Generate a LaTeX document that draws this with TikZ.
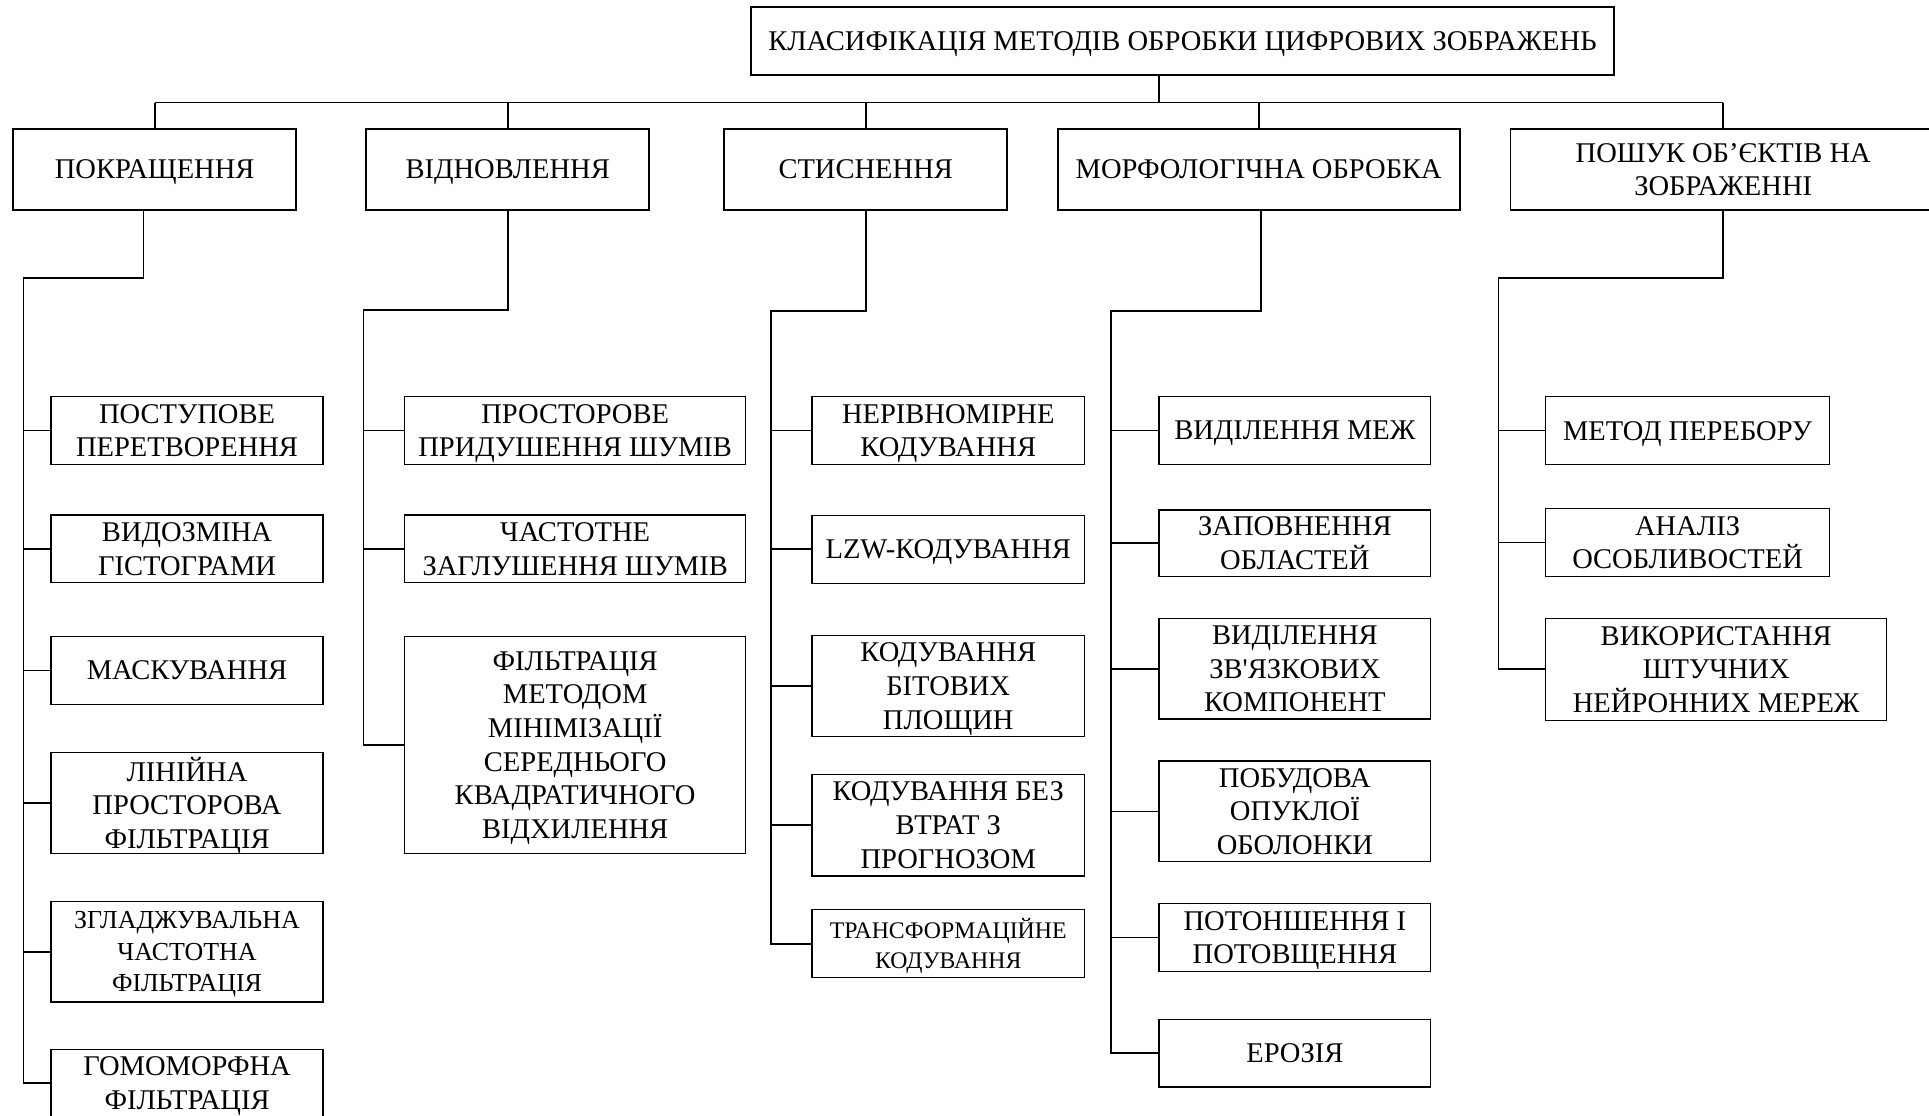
\documentclass[tikz,border=0pt]{standalone}
\usepackage{fontspec}
\setmainfont{Liberation Serif}
\usetikzlibrary{calc}
\newcommand{\boxfont}{\fontsize{13.2}{15.6}\selectfont}
\newcommand{\midboxfont}{\fontsize{12}{14.5}\selectfont}
\newcommand{\trboxfont}{\fontsize{11}{13.7}\selectfont}
\begin{document}
\begin{tikzpicture}[x=0.2mm, y=-0.2mm]
% Define box and connector styles
\tikzstyle{group} = [rectangle, draw=black, line width=0.8pt, align=center, inner sep=0pt, text depth=0pt, anchor=north west, font=\boxfont, minimum height=13.2mm]
\tikzstyle{method} = [rectangle, draw=black, line width=0.6pt, align=center, inner sep=0pt, text depth=0pt, anchor=north west, font=\boxfont, minimum height=11mm]
\tikzstyle{narrow} = [method, minimum width=44.2mm]
\tikzstyle{wide} = [method, minimum width=55.4mm]
\tikzstyle{link} = [draw=black, line width=0.8pt]

\useasboundingbox (0,0) rectangle (1568,907);
\clip (0,0) rectangle (1568,907);

% Root
\node[group, minimum width=140.2mm, minimum height=11mm] (title) at (610,5) {КЛАСИФІКАЦІЯ МЕТОДІВ ОБРОБКИ ЦИФРОВИХ ЗОБРАЖЕНЬ};

% First level (groups of methods)
\node[group, minimum width=46mm] (enh) at (10,104) {ПОКРАЩЕННЯ};
\node[group, minimum width=46mm] (rest) at (297,104) {ВІДНОВЛЕННЯ};
\node[group, minimum width=46mm] (comp) at (588,104) {СТИСНЕННЯ};
\node[group, minimum width=65.4mm] (morph) at (859,104) {МОРФОЛОГІЧНА ОБРОБКА};
\node[group, minimum width=69.2mm] (search) at (1227,104) {ПОШУК ОБ’ЄКТІВ НА\\ЗОБРАЖЕННІ};

% Enhancement methods
\node[narrow] (gradual) at (41,322) {ПОСТУПОВЕ\\ПЕРЕТВОРЕННЯ};
\node[narrow] (histeq) at (41,418) {ВИДОЗМІНА\\ГІСТОГРАМИ};
\node[narrow] (mask) at (41,517) {МАСКУВАННЯ};
\node[narrow, minimum height=16.4mm] (linfilt) at (41,611) {ЛІНІЙНА\\ПРОСТОРОВА\\ФІЛЬТРАЦІЯ};
\node[narrow, minimum height=16.4mm, font=\midboxfont] (smooth) at (41,732) {ЗГЛАДЖУВАЛЬНА\\ЧАСТОТНА\\ФІЛЬТРАЦІЯ};
\node[narrow] (homomorph) at (41,852.5) {ГОМОМОРФНА\\ФІЛЬТРАЦІЯ};

% Restoration methods
\node[wide] (spatial) at (328.5,322) {ПРОСТОРОВЕ\\ПРИДУШЕННЯ ШУМІВ};
\node[wide] (freqnoise) at (328.5,418) {ЧАСТОТНЕ\\ЗАГЛУШЕННЯ ШУМІВ};
\node[wide, minimum height=35.2mm] (mse) at (328.5,517) {ФІЛЬТРАЦІЯ\\МЕТОДОМ\\МІНІМІЗАЦІЇ\\СЕРЕДНЬОГО\\КВАДРАТИЧНОГО\\ВІДХИЛЕННЯ};

% Compression methods
\node[narrow, minimum width=44.3mm] (nonuni) at (659.5,322) {НЕРІВНОМІРНЕ\\КОДУВАННЯ};
\node[narrow, minimum width=44.3mm] (lzw) at (659.5,418.5) {LZW-КОДУВАННЯ};
\node[narrow, minimum width=44.3mm, minimum height=16.4mm] (bitplane) at (659.5,516) {КОДУВАННЯ\\БІТОВИХ\\ПЛОЩИН};
\node[narrow, minimum width=44.3mm, minimum height=16.5mm] (lossless) at (659.5,629) {КОДУВАННЯ БЕЗ\\ВТРАТ З\\ПРОГНОЗОМ};
\node[narrow, minimum width=44.3mm, font=\trboxfont] (transform) at (659.5,739) {ТРАНСФОРМАЦІЙНЕ\\КОДУВАННЯ};

% Morphological processing
\node[narrow] (edges) at (941.5,322) {ВИДІЛЕННЯ МЕЖ};
\node[narrow, minimum height=10.8mm] (fill) at (941.5,414) {ЗАПОВНЕННЯ\\ОБЛАСТЕЙ};
\node[narrow, minimum height=16.4mm] (conncomp) at (941.5,502) {ВИДІЛЕННЯ\\ЗВ\textquotesingle ЯЗКОВИХ\\КОМПОНЕНТ};
\node[narrow, minimum height=16.4mm] (hull) at (941.5,618) {ПОБУДОВА\\ОПУКЛОЇ\\ОБОЛОНКИ};
\node[narrow] (thin) at (941.5,734) {ПОТОНШЕННЯ І\\ПОТОВЩЕННЯ};
\node[narrow] (erosion) at (941.5,828) {ЕРОЗІЯ};

% Object search
\node[method, minimum width=46.1mm] (brute) at (1256,322) {МЕТОД ПЕРЕБОРУ};
\node[method, minimum width=46.1mm] (features) at (1256,413) {АНАЛІЗ\\ОСОБЛИВОСТЕЙ};
\node[wide, minimum height=16.6mm] (neural) at (1256,502) {ВИКОРИСТАННЯ\\ШТУЧНИХ\\НЕЙРОННИХ МЕРЕЖ};

% Root to groups
\draw[link] ($(title.south)+(-19,0)$) -- ++(0,22) coordinate (hub);
\draw[link] (hub -| enh.north) -- (hub -| search.north);
\draw[link] (hub -| enh.north) -- (enh.north);
\draw[link] (hub -| rest.north) -- (rest.north);
\draw[link] (hub -| comp.north) -- (comp.north);
\draw[link] (hub -| morph.north) -- (morph.north);
\draw[link] (hub -| search.north) -- (search.north);

% Rails of each group
\coordinate (enhrail) at (19,226);
\coordinate (restrail) at (295.5,252);
\coordinate (comprail) at (627,253);
\coordinate (morphrail) at (903,253);
\coordinate (searchrail) at (1218,226);

\draw[link] ($(enh.south)+(-9,0)$) |- (enhrail) -- (enhrail |- homomorph.west) -- (homomorph.west);
\draw[link] (enhrail |- gradual.west) -- (gradual.west);
\draw[link] (enhrail |- histeq.west) -- (histeq.west);
\draw[link] (enhrail |- mask.west) -- (mask.west);
\draw[link] (enhrail |- linfilt.west) -- (linfilt.west);
\draw[link] (enhrail |- smooth.west) -- (smooth.west);

\draw[link] (rest.south) |- (restrail) -- (restrail |- mse.west) -- (mse.west);
\draw[link] (restrail |- spatial.west) -- (spatial.west);
\draw[link] (restrail |- freqnoise.west) -- (freqnoise.west);

\draw[link] (comp.south) |- (comprail) -- (comprail |- transform.west) -- (transform.west);
\draw[link] (comprail |- nonuni.west) -- (nonuni.west);
\draw[link] (comprail |- lzw.west) -- (lzw.west);
\draw[link] (comprail |- bitplane.west) -- (bitplane.west);
\draw[link] (comprail |- lossless.west) -- (lossless.west);

\draw[link] ($(morph.south)+(1.5,0)$) |- (morphrail) -- (morphrail |- erosion.west) -- (erosion.west);
\draw[link] (morphrail |- edges.west) -- (edges.west);
\draw[link] (morphrail |- fill.west) -- (fill.west);
\draw[link] (morphrail |- conncomp.west) -- (conncomp.west);
\draw[link] (morphrail |- hull.west) -- (hull.west);
\draw[link] (morphrail |- thin.west) -- (thin.west);

\draw[link] (search.south) |- (searchrail) -- (searchrail |- neural.west) -- (neural.west);
\draw[link] (searchrail |- brute.west) -- (brute.west);
\draw[link] (searchrail |- features.west) -- (features.west);

\end{tikzpicture}
\end{document}
